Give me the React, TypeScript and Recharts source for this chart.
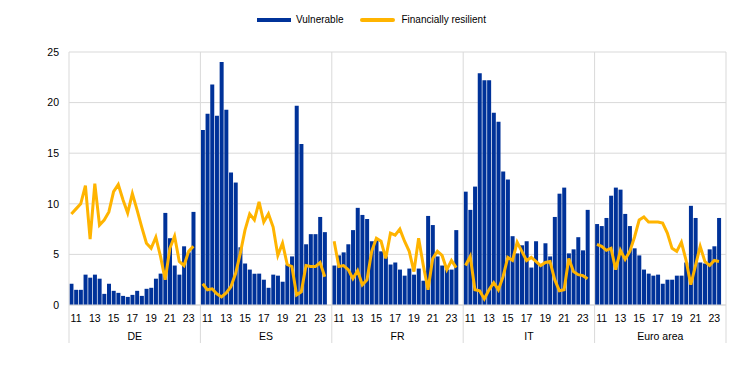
import { ComposedChart, Bar, Line, XAxis, YAxis, CartesianGrid } from 'recharts';

const groups = ['DE', 'ES', 'FR', 'IT', 'Euro area'];
const periods = [
  '10H2', '11H1', '11H2', '12H1', '12H2', '13H1', '13H2', '14H1', '14H2',
  '15H1', '15H2', '16H1', '16H2', '17H1', '17H2', '18H1', '18H2', '19H1',
  '19H2', '20H1', '20H2', '21H1', '21H2', '22H1', '22H2', '23H1', '23H2',
];
const yearTicks = ['11', '13', '15', '17', '19', '21', '23'];
const yTicks = [0, 5, 10, 15, 20, 25];

const deVulnerable = [2.1, 1.5, 1.5, 3.0, 2.7, 3.0, 2.6, 1.1, 2.1, 1.4, 1.2, 0.9, 0.8, 1.0, 1.4, 0.9, 1.6, 1.7, 2.6, 3.1, 9.1, 6.6, 3.9, 3.0, 5.8, 5.2, 9.2];
const deResilient = [9.0, 9.5, 10.0, 11.8, 6.5, 12.0, 7.9, 8.4, 9.2, 11.2, 11.9, 10.4, 9.1, 11.0, 9.4, 7.7, 6.1, 5.6, 6.7, 4.8, 2.5, 5.6, 6.8, 4.3, 3.9, 5.3, 5.8];
const esVulnerable = [17.3, 18.9, 21.8, 18.7, 24.0, 19.3, 13.1, 12.1, 5.7, 4.1, 3.5, 3.1, 3.1, 2.5, 1.7, 3.0, 2.9, 2.3, 4.0, 4.8, 19.7, 15.9, 6.0, 7.0, 7.0, 8.7, 7.2];
const esResilient = [2.1, 1.5, 1.6, 1.1, 0.8, 1.2, 1.8, 3.1, 5.1, 7.4, 9.0, 8.4, 10.2, 8.2, 9.0, 7.7, 4.9, 6.1, 4.0, 3.8, 1.0, 1.3, 3.9, 3.8, 3.8, 4.2, 2.8];
const frVulnerable = [3.9, 4.9, 5.2, 6.0, 7.4, 9.6, 8.9, 8.5, 6.3, 6.4, 5.3, 4.8, 4.0, 4.2, 3.5, 2.9, 3.6, 3.0, 3.6, 2.4, 8.8, 7.9, 4.8, 3.9, 3.5, 3.5, 7.4];
const frResilient = [6.3, 3.8, 3.9, 3.5, 2.6, 3.4, 2.0, 2.5, 5.3, 6.6, 6.3, 4.6, 7.1, 6.9, 7.5, 6.3, 5.3, 3.3, 6.6, 3.9, 1.5, 4.6, 5.3, 4.9, 3.5, 4.4, 3.7];
const itVulnerable = [11.2, 9.4, 11.7, 22.9, 22.2, 22.2, 19.0, 18.1, 13.2, 12.4, 6.8, 5.1, 5.9, 6.3, 3.7, 6.3, 4.0, 6.1, 4.8, 8.7, 11.0, 11.6, 5.1, 5.5, 6.7, 5.4, 9.4];
const itResilient = [3.9, 4.8, 1.5, 1.4, 0.6, 1.5, 2.2, 1.5, 2.8, 4.7, 4.4, 6.2, 5.3, 4.4, 4.7, 4.3, 3.9, 4.2, 4.3, 2.5, 1.4, 1.5, 4.6, 3.3, 3.0, 2.9, 2.6];
const eaVulnerable = [8.0, 7.8, 8.6, 10.8, 11.6, 11.4, 9.0, 7.8, 5.6, 4.9, 3.5, 3.1, 2.9, 3.0, 2.1, 2.5, 2.5, 2.9, 2.9, 4.2, 9.8, 8.6, 4.2, 4.1, 5.5, 5.8, 8.6];
const eaResilient = [6.0, 5.8, 5.4, 5.6, 3.5, 5.4, 4.5, 5.3, 6.7, 8.4, 8.7, 8.2, 8.2, 8.2, 8.1, 7.1, 5.6, 5.3, 6.2, 4.4, 2.0, 3.9, 5.8, 4.3, 3.9, 4.4, 4.3];

const vulnerableByGroup = [deVulnerable, esVulnerable, frVulnerable, itVulnerable, eaVulnerable];
const resilientByGroup = [deResilient, esResilient, frResilient, itResilient, eaResilient];

const BLUE = '#003299';
const YELLOW = '#ffb400';
const GRID = '#d9d9d9';
const FONT = "Arial, 'Liberation Sans', sans-serif";

const W = 744;
const H = 377;
const MARGIN = { top: 52, right: 18, left: 0, bottom: 22 };
const Y_AXIS_W = 69;
const X_AXIS_H = 50;
const PLOT_TOP = MARGIN.top;
const PLOT_BOTTOM = H - MARGIN.bottom - X_AXIS_H;

type Row = {
  key: string;
  group: string;
  pos: number;
  label: string;
  vulnerable: number | null;
  resilient: number | null;
};

const rows: Row[] = [];
groups.forEach((g, gi) => {
  periods.forEach((p, i) => {
    const yr = p.slice(0, 2);
    rows.push({
      key: `${g} ${p}`,
      group: g,
      pos: i,
      label: p.endsWith('H1') && yearTicks.includes(yr) ? yr : '',
      vulnerable: vulnerableByGroup[gi][i],
      resilient: resilientByGroup[gi][i],
    });
  });
  // empty slot that separates the groups
  rows.push({ key: `${g} gap`, group: g, pos: periods.length, label: '', vulnerable: null, resilient: null });
});
const rowByKey = new Map(rows.map((r) => [r.key, r]));
const SLOT = (W - Y_AXIS_W - MARGIN.left - MARGIN.right) / rows.length;

function GroupTick(props: any) {
  const { x, payload, index } = props;
  const row = rowByKey.get(payload.value);
  if (!row) return null;
  return (
    <g>
      {row.label && (
        <text x={x} y={PLOT_BOTTOM + 17} textAnchor="middle" fontSize={10.5} fill="#000" fontFamily={FONT}>
          {row.label}
        </text>
      )}
      {row.pos === 13 && (
        <text x={x + SLOT / 2} y={PLOT_BOTTOM + 35} textAnchor="middle" fontSize={10.5} fill="#000" fontFamily={FONT}>
          {row.group}
        </text>
      )}
      {index === 0 && (
        <line x1={x - SLOT / 2} x2={x - SLOT / 2} y1={PLOT_TOP} y2={PLOT_BOTTOM + 38} stroke={GRID} />
      )}
      {row.pos === periods.length && (
        <line x1={x + SLOT / 2} x2={x + SLOT / 2} y1={PLOT_TOP} y2={PLOT_BOTTOM + 38} stroke={GRID} />
      )}
    </g>
  );
}

export default function App() {
  return (
    <div style={{ position: 'absolute', left: 0, top: 0, width: W, height: H, fontFamily: FONT, background: '#fff' }}>
      <div style={{ position: 'absolute', left: 257, top: 14, display: 'flex', alignItems: 'center', fontSize: 10, color: '#000' }}>
        <span style={{ display: 'inline-block', width: 34, height: 4, background: BLUE, marginRight: 5 }} />
        <span>Vulnerable</span>
        <span style={{ display: 'inline-block', width: 35, height: 4, borderRadius: 2, background: YELLOW, marginLeft: 17, marginRight: 6 }} />
        <span>Financially resilient</span>
      </div>
      <ComposedChart width={W} height={H} data={rows} margin={MARGIN} barCategoryGap="10%">
        <CartesianGrid vertical={false} stroke={GRID} />
        <XAxis
          dataKey="key"
          type="category"
          interval={0}
          height={X_AXIS_H}
          tickLine={false}
          axisLine={{ stroke: GRID }}
          tick={<GroupTick />}
        />
        <YAxis
          domain={[0, 25]}
          ticks={yTicks}
          width={Y_AXIS_W}
          axisLine={false}
          tickLine={false}
          tickSize={0}
          tickMargin={10}
          tick={{ fontSize: 10.5, fill: '#000', fontFamily: FONT }}
        />
        <Bar dataKey="vulnerable" name="Vulnerable" fill={BLUE} isAnimationActive={false} />
        <Line
          dataKey="resilient"
          name="Financially resilient"
          type="linear"
          stroke={YELLOW}
          strokeWidth={3}
          dot={false}
          activeDot={false}
          connectNulls={false}
          isAnimationActive={false}
        />
      </ComposedChart>
    </div>
  );
}
